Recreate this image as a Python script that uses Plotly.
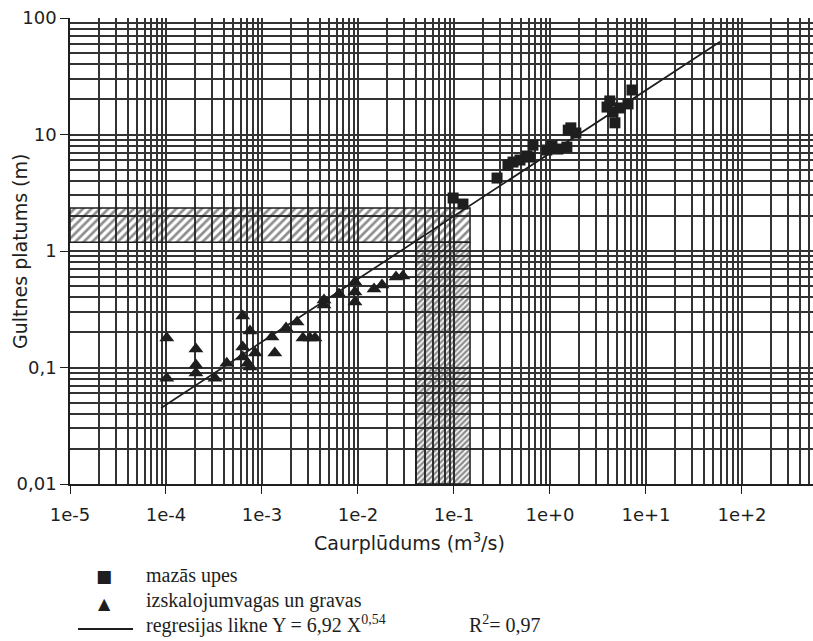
import plotly.graph_objects as go
import numpy as np

# ---- data ----
upes_x = [0.098, 0.124, 0.281, 0.365, 0.412, 0.487, 0.575, 0.62, 0.665, 0.93, 1.05, 1.21, 1.5, 1.55, 1.65, 1.86,
          3.93, 4.2, 4.53, 4.75, 5.36, 6.5, 7.15]
upes_y = [2.85, 2.53, 4.23, 5.47, 5.8, 6.04, 6.54, 6.4, 8.1, 7.36, 7.97, 7.5, 7.8, 10.9, 11.4, 10.3,
          17.2, 19.4, 15.6, 12.6, 16.9, 18.3, 24.1]

grav_x = [1.02e-4, 1.02e-4, 2.05e-4, 2.05e-4, 2.05e-4, 3.24e-4, 4.3e-4, 6.3e-4, 7.5e-4, 6.3e-4, 6.3e-4,
          7.1e-4, 8.5e-4, 7.5e-4, 1.36e-3, 1.27e-3, 1.78e-3, 2.32e-3, 2.67e-3, 3.16e-3, 3.57e-3,
          4.43e-3, 4.43e-3, 6.34e-3, 9.3e-3, 9.3e-3, 9.3e-3, 1.47e-2, 1.78e-2, 2.49e-2, 2.94e-2]
grav_y = [0.179, 0.081, 0.144, 0.105, 0.0897, 0.081, 0.109, 0.277, 0.206, 0.15, 0.123,
          0.109, 0.133, 0.101, 0.133, 0.183, 0.218, 0.246, 0.179, 0.179, 0.179,
          0.38, 0.344, 0.427, 0.542, 0.445, 0.365, 0.472, 0.51, 0.598, 0.61]

reg_a = 6.92
reg_b = 0.54
reg_x_range = [8.9e-5, 59.0]

band_h_x = [1e-5, 0.147]
band_h_y = [1.19, 2.34]
band_v_x = [0.040, 0.147]
band_v_y = [0.01, 1.19]

x_tickvals = [1e-5, 1e-4, 1e-3, 1e-2, 1e-1, 1e0, 1e1, 1e2]
x_ticktext = ["1e-5", "1e-4", "1e-3", "1e-2", "1e-1", "1e+0", "1e+1", "1e+2"]
y_tickvals = [0.01, 0.1, 1, 10, 100]
y_ticktext = ["0,01", "0,1", "1", "10", "100"]

minor_x = [m * 10.0 ** e for e in range(-5, 3) for m in range(2, 10)]
minor_y = [m * 10.0 ** e for e in range(-2, 2) for m in range(2, 10)]

INK = "#1e1e1e"
GRID = "#333333"
SANS = "DejaVu Sans, Verdana, sans-serif"
SERIF = "Liberation Serif, Times New Roman, serif"

fig = go.Figure()

# hatched bands
fig.add_trace(go.Scatter(
    x=[band_h_x[0], band_h_x[1], band_h_x[1], band_h_x[0], band_h_x[0]],
    y=[band_h_y[0], band_h_y[0], band_h_y[1], band_h_y[1], band_h_y[0]],
    mode="lines", fill="toself", fillcolor="rgba(0,0,0,0)",
    fillpattern=dict(shape="/", fgcolor=INK, bgcolor="rgba(0,0,0,0)", size=6, solidity=0.45),
    line=dict(color=INK, width=1.5), hoverinfo="skip", showlegend=False))
fig.add_trace(go.Scatter(
    x=[band_v_x[0], band_v_x[1], band_v_x[1], band_v_x[0], band_v_x[0]],
    y=[band_v_y[0], band_v_y[0], band_v_y[1], band_v_y[1], band_v_y[0]],
    mode="lines", fill="toself", fillcolor="rgba(0,0,0,0)",
    fillpattern=dict(shape="/", fgcolor=INK, bgcolor="rgba(0,0,0,0)", size=4, solidity=0.6),
    line=dict(color=INK, width=1.5), hoverinfo="skip", showlegend=False))

# regression line
rx = np.array(reg_x_range)
fig.add_trace(go.Scatter(x=rx, y=reg_a * rx ** reg_b, mode="lines",
                         line=dict(color=INK, width=1.7), showlegend=False))

# data
fig.add_trace(go.Scatter(x=upes_x, y=upes_y, mode="markers",
                         marker=dict(symbol="square", size=11, color=INK), showlegend=False))
fig.add_trace(go.Scatter(x=grav_x, y=grav_y, mode="markers",
                         marker=dict(symbol="triangle-up", size=13, color=INK), showlegend=False))

axis_common = dict(showgrid=True, gridcolor=GRID, gridwidth=1.6, showline=True, linecolor=INK,
                   linewidth=1.6, ticks="outside", ticklen=8, tickcolor=INK, tickwidth=1.4,
                   automargin=False,
                   tickfont=dict(family=SANS, size=18, color=INK))

fig.update_xaxes(type="log", range=[-5, 2.74], tickmode="array", tickvals=x_tickvals,
                 ticktext=x_ticktext, ticklabelstandoff=6,
                 minor=dict(tickmode="array", tickvals=minor_x, showgrid=True, gridcolor=GRID,
                            gridwidth=1.6, ticks=""),
                 **axis_common)
fig.update_yaxes(type="log", range=[-2, 2], tickmode="array", tickvals=y_tickvals,
                 ticktext=y_ticktext,
                 minor=dict(tickmode="array", tickvals=minor_y, showgrid=True, gridcolor=GRID,
                            gridwidth=1.6, ticks=""),
                 **axis_common)

def note(x, y, text, font, xanchor="center", **kw):
    fig.add_annotation(xref="paper", yref="paper", x=x, y=y, text=text, showarrow=False,
                       xanchor=xanchor, yanchor="middle", font=font, **kw)

# axis titles
note(0.4576, -0.1245, "Caurplūdums (m<sup>3</sup>/s)", dict(family=SANS, size=19, color=INK))
note(-0.0673, 0.5, "Gultnes platums (m)", dict(family=SANS, size=19, color=INK), textangle=-90)

# legend drawn below the chart
serif = dict(family=SERIF, size=20, color=INK)
note(0.0458, -0.197, "■", dict(family="DejaVu Sans", size=17, color=INK))
note(0.0471, -0.2554, "▲", dict(family="DejaVu Sans", size=16, color=INK))
fig.add_shape(type="line", xref="paper", yref="paper", x0=0.0108, x1=0.0848, y0=-0.3112, y1=-0.3112,
              line=dict(color=INK, width=2))
note(0.0996, -0.1953, "mazās upes", serif, xanchor="left")
note(0.0996, -0.2510, "izskalojumvagas un gravas", serif, xanchor="left")
note(0.0996, -0.3005, "regresijas likne Y = 6,92 X<sup>0,54</sup>", serif, xanchor="left")
note(0.534, -0.3005, "R<sup>2</sup>= 0,97", serif, xanchor="left")

fig.update_layout(width=813, height=641, margin=dict(l=70, r=0, t=18, b=157),
                  paper_bgcolor="white", plot_bgcolor="white", showlegend=False)

fig.write_html("out.html", config={"displayModeBar": False},
               post_script="document.body.style.margin='0px';")
